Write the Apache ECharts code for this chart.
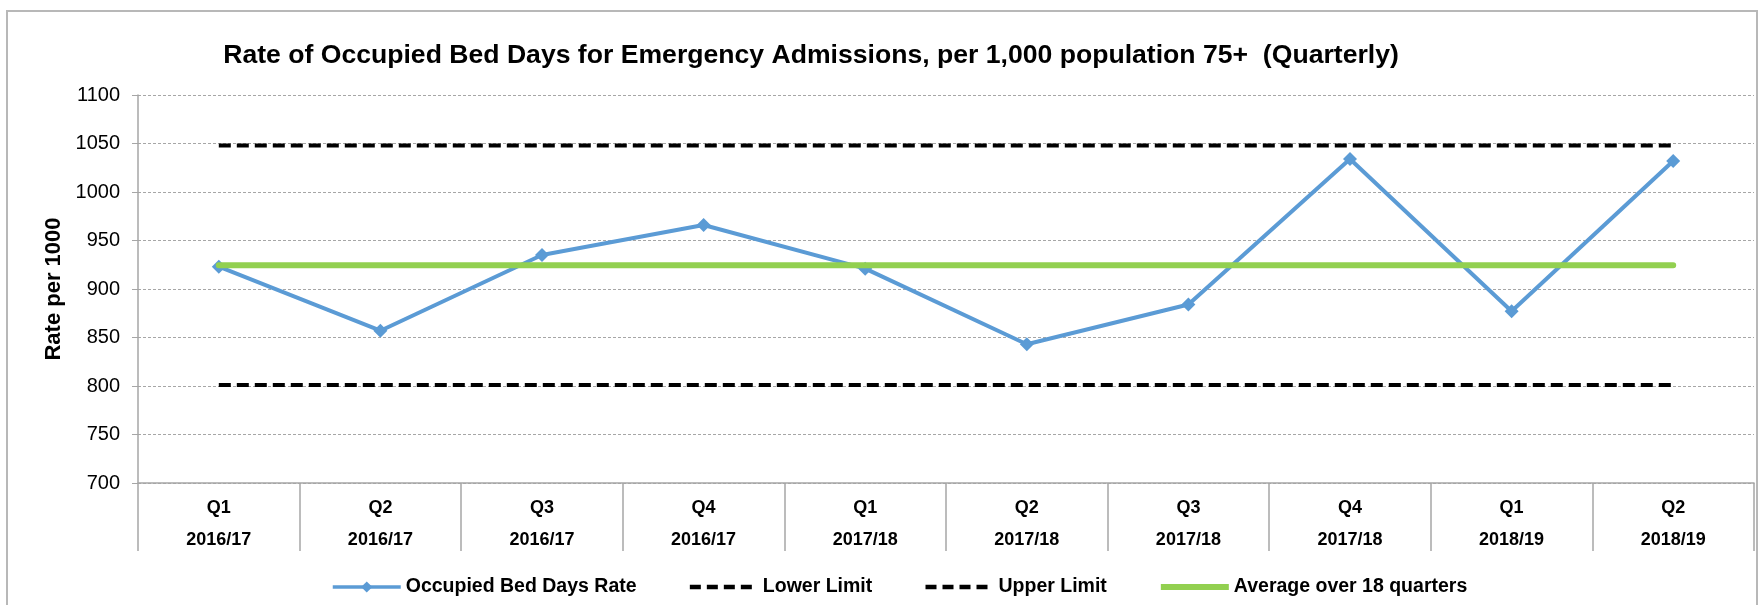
<!DOCTYPE html>
<html>
<head>
<meta charset="utf-8">
<script src="https://cdn.jsdelivr.net/npm/echarts@6/dist/echarts.min.js"></script>
<style>
  html, body { margin: 0; padding: 0; background: #fff; }
  #chart { width: 1761px; height: 605px; }
</style>
</head>
<body>
<div id="chart"></div>
<script>
  // values
  const quarters = ['Q1', 'Q2', 'Q3', 'Q4', 'Q1', 'Q2', 'Q3', 'Q4', 'Q1', 'Q2'];
  const years = ['2016/17', '2016/17', '2016/17', '2016/17', '2017/18', '2017/18', '2017/18', '2017/18', '2018/19', '2018/19'];
  const bedDaysRate = [923, 857, 935, 966, 921, 843, 884, 1034, 877, 1032];
  const lowerLimit = [801, 801, 801, 801, 801, 801, 801, 801, 801, 801];
  const upperLimit = [1048, 1048, 1048, 1048, 1048, 1048, 1048, 1048, 1048, 1048];
  const average = [924.5, 924.5, 924.5, 924.5, 924.5, 924.5, 924.5, 924.5, 924.5, 924.5];
  const yTicks = { min: 700, max: 1100, interval: 50 };

  const categories = quarters.map((q, i) => q + '\n' + years[i]);
  const font = '"Liberation Sans", Arial, sans-serif';
  const limitDash = [12, 6];

  const chart = echarts.init(document.getElementById('chart'));

  const option = {
    backgroundColor: '#fff',
    animation: false,
    textStyle: { fontFamily: font },
    title: {
      text: 'Rate of Occupied Bed Days for Emergency Admissions, per 1,000 population 75+  (Quarterly)',
      left: 806,
      top: 37,
      textAlign: 'center',
      textStyle: { fontFamily: font, fontSize: 26.6, fontWeight: 'bold', color: '#000' }
    },
    graphic: [{
      type: 'rect',
      shape: { x: 7, y: 11, width: 1750, height: 640 },
      style: { fill: 'none', stroke: '#b8b8b8', lineWidth: 2 },
      silent: true
    }],
    grid: { left: 138, right: 7, top: 95, bottom: 122 },
    legend: {
      left: 326,
      top: 572,
      itemWidth: 68,
      itemHeight: 14,
      itemGap: 51,
      textStyle: { fontFamily: font, fontSize: 19.5, fontWeight: 'bold', color: '#000' },
      data: [
        { name: 'Occupied Bed Days Rate', lineStyle: { width: 3.5 } },
        { name: 'Lower Limit', itemStyle: { opacity: 0 }, lineStyle: { width: 4.5, type: [11, 6] } },
        { name: 'Upper Limit', itemStyle: { opacity: 0 }, lineStyle: { width: 4.5, type: [11, 6] } },
        { name: 'Average over 18 quarters', itemStyle: { opacity: 0 }, lineStyle: { width: 6, cap: 'butt' } }
      ]
    },
    xAxis: {
      type: 'category',
      data: categories,
      boundaryGap: true,
      axisLine: { lineStyle: { color: '#a6a6a6', width: 1.5 } },
      axisTick: { show: true, length: 68, lineStyle: { color: '#a6a6a6', width: 1.5 } },
      axisLabel: {
        interval: 0,
        margin: 9,
        fontFamily: font,
        fontSize: 18,
        fontWeight: 'bold',
        color: '#000',
        lineHeight: 32
      },
      splitLine: { show: false }
    },
    yAxis: {
      type: 'value',
      min: yTicks.min,
      max: yTicks.max,
      interval: yTicks.interval,
      name: 'Rate per 1000',
      nameLocation: 'middle',
      nameGap: 72,
      nameTextStyle: { fontFamily: font, fontSize: 22, fontWeight: 'bold', color: '#000' },
      axisLine: { show: true, lineStyle: { color: '#a6a6a6', width: 1.5 } },
      axisTick: { show: true, length: 6, lineStyle: { color: '#a6a6a6' } },
      axisLabel: {
        fontFamily: font,
        fontSize: 20,
        color: '#000',
        margin: 18,
        formatter: (v) => String(v)
      },
      splitLine: { lineStyle: { color: '#a6a6a6', width: 1, type: [3, 2] } }
    },
    series: [
      {
        name: 'Occupied Bed Days Rate',
        type: 'line',
        data: bedDaysRate,
        symbol: 'diamond',
        symbolSize: 14,
        itemStyle: { color: '#5b9bd5' },
        lineStyle: { color: '#5b9bd5', width: 4 },
        z: 4
      },
      {
        name: 'Lower Limit',
        type: 'line',
        data: lowerLimit,
        symbol: 'none',
        itemStyle: { color: '#000' },
        lineStyle: { color: '#000', width: 4, type: limitDash },
        z: 3
      },
      {
        name: 'Upper Limit',
        type: 'line',
        data: upperLimit,
        symbol: 'none',
        itemStyle: { color: '#000' },
        lineStyle: { color: '#000', width: 4, type: limitDash },
        z: 3
      },
      {
        name: 'Average over 18 quarters',
        type: 'line',
        data: average,
        symbol: 'none',
        itemStyle: { color: '#92d050' },
        lineStyle: { color: '#92d050', width: 6, cap: 'round' },
        z: 5
      }
    ]
  };

  chart.setOption(option);
</script>
</body>
</html>
